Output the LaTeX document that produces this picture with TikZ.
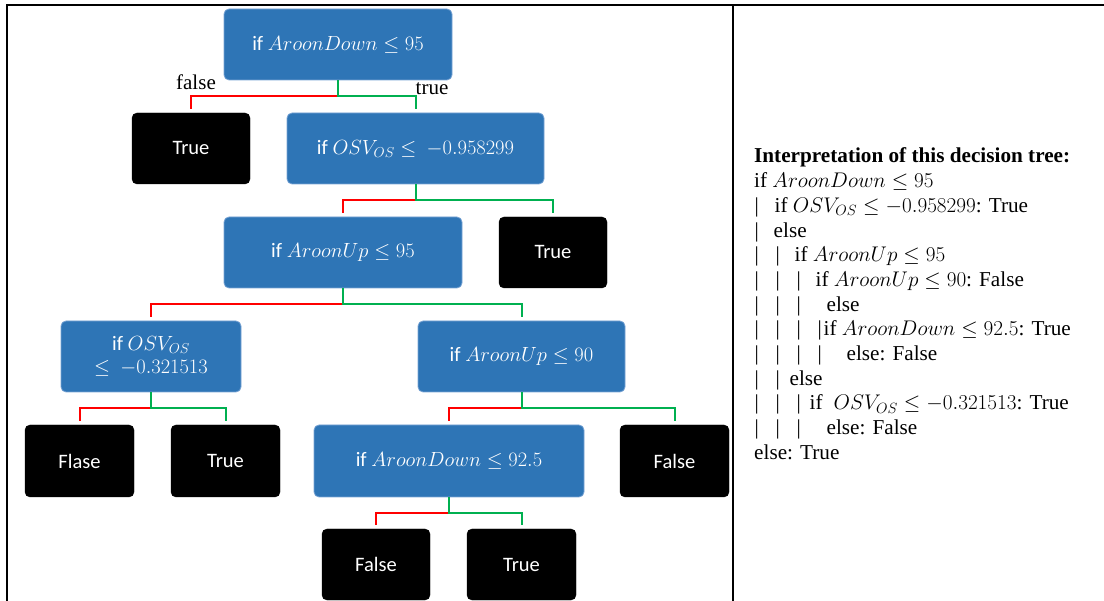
\RequirePackage{fix-cm}
\documentclass[tikz,border=0pt]{standalone}
\usepackage{fontspec}
\setmainfont{Liberation Serif}
\newfontfamily\calib{Carlito}
\definecolor{boxblue}{RGB}{46,117,182}
\definecolor{boxedge}{RGB}{120,163,212}
\definecolor{lred}{RGB}{255,0,0}
\definecolor{lgreen}{RGB}{0,176,80}
\newcommand{\atx}[2]{\makebox[0pt][l]{\hspace*{#1pt}#2}}
\begin{document}
\begin{tikzpicture}[x=1pt,y=-1pt,
  bluebox/.style={rectangle, rounded corners=5pt, fill=boxblue, draw=boxedge, line width=0.8pt, text=white, font=\calib\fontsize{20.5}{23}\selectfont, inner sep=0pt, align=center},
  leafbox/.style={rectangle, rounded corners=5pt, fill=black, draw=black, text=white, font=\calib\fontsize{20.5}{23}\selectfont, inner sep=0pt, minimum width=109pt, minimum height=71pt},
  rline/.style={draw=lred, line width=2pt, shorten >=4pt},
  gline/.style={draw=lgreen, line width=2pt, shorten >=4pt},
  frameline/.style={line width=1.5pt},
  lbl/.style={font=\fontsize{21}{24}\selectfont, inner sep=0pt},
  itxt/.style={anchor=base west, inner sep=0pt, font=\fontsize{21.2}{24.7}\selectfont}
]
\useasboundingbox (0,0) rectangle (1104,601);
% table frame
\draw[frameline] (7,601) -- (7,5) -- (1104,5);
\draw[frameline] (733,5) -- (733,601);

% tree nodes
\node[bluebox, minimum width=228pt, minimum height=71pt] (root) at (338,44.5) {if $AroonDown \leq 95$};
\node[leafbox, minimum width=118pt] (t1) at (191,148.5) {True};
\node[bluebox, minimum width=257pt, minimum height=71pt] (osv) at (415.5,148.5) {if $OSV_{OS} \leq\ -0.958299$};
\node[bluebox, minimum width=238pt, minimum height=71pt] (up95) at (343,252.5) {if $AroonUp \leq 95$};
\node[leafbox, minimum width=108pt] (t2) at (553,252.5) {True};
\node[bluebox, minimum width=180pt, minimum height=71pt] (osv2) at (151,356.5) {if $OSV_{OS}$\\$\leq\ -0.321513$};
\node[bluebox, minimum width=207pt, minimum height=71pt] (up90) at (521.5,356.5) {if $AroonUp \leq 90$};
\node[leafbox, minimum height=72pt] (f1) at (79.5,461) {Flase};
\node[leafbox, minimum height=72pt] (t3) at (225.5,461) {True};
\node[bluebox, minimum width=270pt, minimum height=72pt] (dn) at (449,461) {if $AroonDown \leq 92.5$};
\node[leafbox, minimum height=72pt] (f2) at (674.5,461) {False};
\node[leafbox, minimum width=108pt] (f3) at (376,564.5) {False};
\node[leafbox] (t4) at (521.5,564.5) {True};

% connectors
\path (root.south) ++(0,16) coordinate (m1);
\draw[rline] (m1) -| (t1.north);
\draw[gline] (root.south) -- (m1) -| (osv.north);
\path (osv.south) ++(0,16) coordinate (m2);
\draw[rline] (m2) -| (up95.north);
\draw[gline] (osv.south) -- (m2) -| (t2.north);
\path (up95.south) ++(0,16) coordinate (m3);
\draw[rline] (m3) -| (osv2.north);
\draw[gline] (up95.south) -- (m3) -| (up90.north);
\path (osv2.south) ++(0,16) coordinate (m4);
\draw[rline] (m4) -| (f1.north);
\draw[gline] (osv2.south) -- (m4) -| (t3.north);
\path (up90.south) ++(0,16) coordinate (m5);
\draw[rline] (m5) -| (dn.north);
\draw[gline] (up90.south) -- (m5) -| (f2.north);
\path (dn.south) ++(0,16) coordinate (m6);
\draw[rline] (m6) -| (f3.north);
\draw[gline] (dn.south) -- (m6) -| (t4.north);

\node[lbl] (lf) at (196,82) {false};
\node[lbl] (lt) at (432,89) {true};

% interpretation text
\node[itxt] (i1) at (754,163) {\textbf{Interpretation of this decision tree:}};
\node[itxt] (i2) at (754,187.7) {if $AroonDown \leq 95$};
\node[itxt] (i3) at (754,212.4) {\atx{0}{|}\atx{20}{if $OSV_{OS} \leq -0.958299$: True}};
\node[itxt] (i4) at (754,237.1) {\atx{0}{|}\atx{19}{else}};
\node[itxt] (i5) at (754,261.8) {\atx{0}{|}\atx{21}{|}\atx{40}{if $AroonUp \leq 95$}};
\node[itxt] (i6) at (754,286.5) {\atx{0}{|}\atx{21}{|}\atx{42}{|}\atx{61}{if $AroonUp \leq 90$: False}};
\node[itxt] (i7) at (754,311.2) {\atx{0}{|}\atx{21}{|}\atx{42}{|}\atx{72}{else}};
\node[itxt] (i8) at (754,335.9) {\atx{0}{|}\atx{21}{|}\atx{42}{|}\atx{63}{|}\atx{69}{if $AroonDown \leq 92.5$: True}};
\node[itxt] (i9) at (754,360.6) {\atx{0}{|}\atx{21}{|}\atx{42}{|}\atx{63}{|}\atx{92}{else: False}};
\node[itxt] (i10) at (754,385.3) {\atx{0}{|}\atx{21}{|}\atx{35}{else}};
\node[itxt] (i11) at (754,410) {\atx{0}{|}\atx{21}{|}\atx{42}{|}\atx{55}{if}\atx{79}{$OSV_{OS} \leq -0.321513$: True}};
\node[itxt] (i12) at (754,434.7) {\atx{0}{|}\atx{21}{|}\atx{42}{|}\atx{72}{else: False}};
\node[itxt] (i13) at (754,459.4) {else: True};
\end{tikzpicture}
\end{document}
